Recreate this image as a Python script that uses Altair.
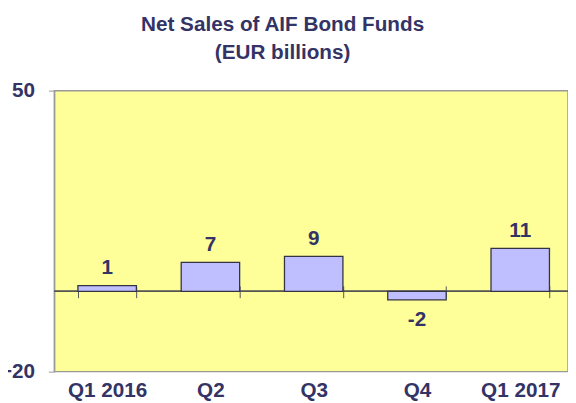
import altair as alt
import pandas as pd

quarters = ["Q1 2016", "Q2", "Q3", "Q4", "Q1 2017"]
values = [1.4, 7.2, 8.7, -2.1, 10.7]
labels = ["1", "7", "9", "-2", "11"]
title_lines = ["Net Sales of AIF Bond Funds", "(EUR billions)"]
y_ticks = [-20, 50]

df = pd.DataFrame({"q": quarters, "v": values, "lab": labels})

NAVY = "#333366"
FONT = "Liberation Sans"

xscale = alt.Scale(type="band", domain=quarters, paddingInner=0.434, paddingOuter=0.204, align=0.56)
yscale = alt.Scale(domain=[-20, 50], nice=False, zero=False)

x_bottom = alt.X(
    "q:N", sort=quarters, scale=xscale, title=None,
    axis=alt.Axis(orient="bottom", offset=-87, domain=False,
                  ticks=True, tickBand="extent", tickSize=12, tickColor="#555555", tickWidth=1,
                  labels=True, labelAngle=0, labelPadding=83, labelFont=FONT, labelFontSize=21,
                  labelFontWeight="bold", labelColor=NAVY, labelBaseline="top"),
)

zero = alt.Chart(df).mark_rule(color="#555555", strokeWidth=1.2).encode(y=alt.datum(0))

bars = alt.Chart(df).mark_bar(color="#BFBFFF", stroke="#333344", strokeWidth=1.3).encode(
    x=x_bottom,
    y=alt.Y("v:Q", scale=yscale, title=None,
            axis=alt.Axis(values=y_ticks, grid=False, domainColor="#999999", tickColor="#999999",
                          tickSize=6, labelPadding=14, labelFont=FONT, labelFontSize=21,
                          labelFontWeight="bold", labelColor=NAVY)),
)

pos_text = alt.Chart(df).transform_filter("datum.v >= 0").mark_text(
    baseline="bottom", dy=-8, font=FONT, fontSize=21, fontWeight="bold", color=NAVY
).encode(x=alt.X("q:N", sort=quarters), y=alt.Y("v:Q"), text="lab:N")

neg_text = alt.Chart(df).transform_filter("datum.v < 0").mark_text(
    baseline="top", dy=10, font=FONT, fontSize=21, fontWeight="bold", color=NAVY
).encode(x=alt.X("q:N", sort=quarters), y=alt.Y("v:Q"), text="lab:N")

chart = alt.layer(zero, bars, pos_text, neg_text).properties(
    width=521, height=285,
    autosize=alt.AutoSizeParams(type="none"),
    padding={"left": 47, "top": 81, "right": 0, "bottom": 29},
    title=alt.TitleParams(title_lines, font=FONT, fontSize=21, fontWeight="bold", color=NAVY,
                          anchor="middle", frame="group", dx=-29, offset=17, lineHeight=29),
).configure(background="white").configure_view(fill="#FFFF99", stroke="#999999", strokeWidth=1.5)

chart.save("out.html", embed_options={"renderer": "svg", "actions": False})
